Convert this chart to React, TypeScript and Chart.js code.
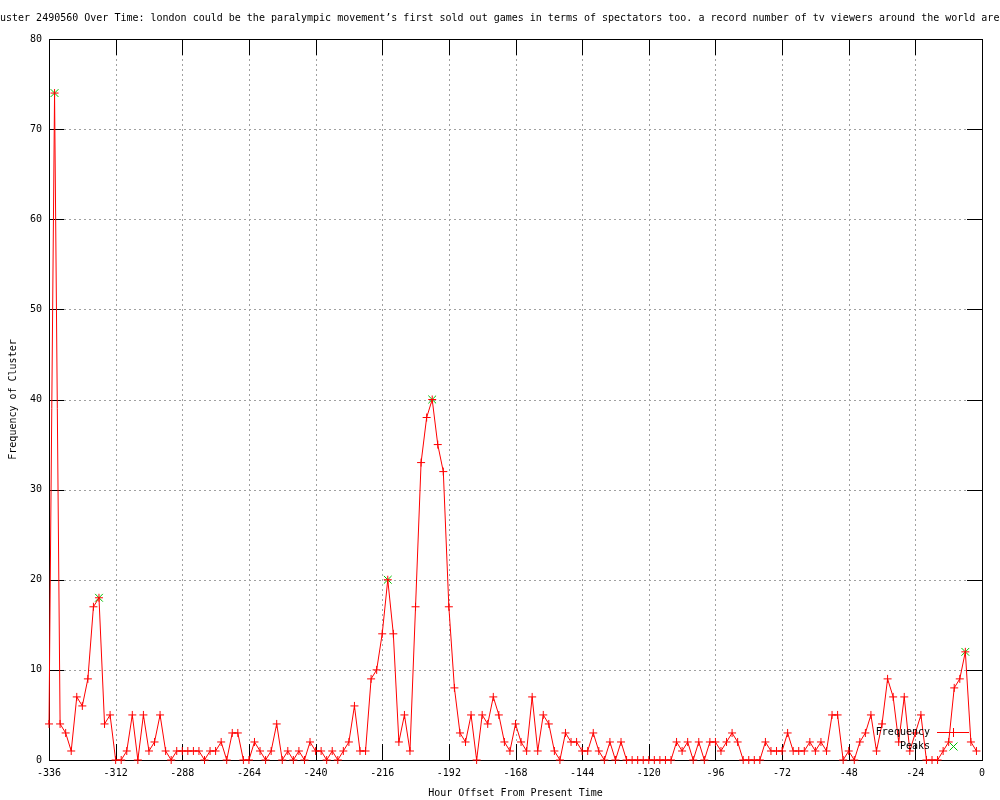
import React, { useEffect, useRef } from 'react';
import Chart from 'chart.js/auto';

const TITLE =
  'uster 2490560 Over Time: london could be the paralympic movement’s first sold out games in terms of spectators too. a record number of tv viewers around the world are';
const X_LABEL = 'Hour Offset From Present Time';
const Y_LABEL = 'Frequency of Cluster';

const hours = [
  -336, -334, -332, -330, -328, -326, -324, -322, -320, -318,
  -316, -314, -312, -310, -308, -306, -304, -302, -300, -298,
  -296, -294, -292, -290, -288, -286, -284, -282, -280, -278,
  -276, -274, -272, -270, -268, -266, -264, -262, -260, -258,
  -256, -254, -252, -250, -248, -246, -244, -242, -240, -238,
  -236, -234, -232, -230, -228, -226, -224, -222, -220, -218,
  -216, -214, -212, -210, -208, -206, -204, -202, -200, -198,
  -196, -194, -192, -190, -188, -186, -184, -182, -180, -178,
  -176, -174, -172, -170, -168, -166, -164, -162, -160, -158,
  -156, -154, -152, -150, -148, -146, -144, -142, -140, -138,
  -136, -134, -132, -130, -128, -126, -124, -122, -120, -118,
  -116, -114, -112, -110, -108, -106, -104, -102, -100, -98,
  -96, -94, -92, -90, -88, -86, -84, -82, -80, -78,
  -76, -74, -72, -70, -68, -66, -64, -62, -60, -58,
  -56, -54, -52, -50, -48, -46, -44, -42, -40, -38,
  -36, -34, -32, -30, -28, -26, -24, -22, -20, -18,
  -16, -14, -12, -10, -8, -6, -4, -2,
];

const frequency = [
  4, 74, 4, 3, 1, 7, 6, 9, 17, 18,
  4, 5, 0, 0, 1, 5, 0, 5, 1, 2,
  5, 1, 0, 1, 1, 1, 1, 1, 0, 1,
  1, 2, 0, 3, 3, 0, 0, 2, 1, 0,
  1, 4, 0, 1, 0, 1, 0, 2, 1, 1,
  0, 1, 0, 1, 2, 6, 1, 1, 9, 10,
  14, 20, 14, 2, 5, 1, 17, 33, 38, 40,
  35, 32, 17, 8, 3, 2, 5, 0, 5, 4,
  7, 5, 2, 1, 4, 2, 1, 7, 1, 5,
  4, 1, 0, 3, 2, 2, 1, 1, 3, 1,
  0, 2, 0, 2, 0, 0, 0, 0, 0, 0,
  0, 0, 0, 2, 1, 2, 0, 2, 0, 2,
  2, 1, 2, 3, 2, 0, 0, 0, 0, 2,
  1, 1, 1, 3, 1, 1, 1, 2, 1, 2,
  1, 5, 5, 0, 1, 0, 2, 3, 5, 1,
  4, 9, 7, 2, 7, 1, 3, 5, 0, 0,
  0, 1, 2, 8, 9, 12, 2, 1,
];

const peakHours = [-334, -318, -214, -198, -6];
const peakValues = [74, 18, 20, 40, 12];

const legendLabels = ['Frequency', 'Peaks'];

const RED = '#ff0000';
const GREEN = '#00c000';
const GRID = '#a0a0a0';
const FONT = '"DejaVu Sans Mono", monospace';

const framePlugin = {
  id: 'gnuFrame',
  beforeDatasetsDraw(chart: any) {
    const { ctx, chartArea: a, scales } = chart;
    const xs = scales.x;
    const ys = scales.y;
    const L = Math.round(a.left);
    const R = Math.round(a.right);
    const T = Math.round(a.top);
    const B = Math.round(a.bottom);
    const line = (x1: number, y1: number, x2: number, y2: number) => {
      ctx.beginPath();
      ctx.moveTo(x1, y1);
      ctx.lineTo(x2, y2);
      ctx.stroke();
    };
    ctx.save();
    ctx.lineWidth = 1;
    ctx.strokeStyle = GRID;
    ctx.setLineDash([2, 3]);
    xs.ticks.forEach((t: any) => {
      const px = Math.round(xs.getPixelForValue(t.value)) + 0.5;
      line(px, T, px, B);
    });
    ys.ticks.forEach((t: any) => {
      const py = Math.round(ys.getPixelForValue(t.value)) + 0.5;
      line(L, py, R, py);
    });
    ctx.setLineDash([]);
    ctx.strokeStyle = '#000';
    ctx.strokeRect(L + 0.5, T + 0.5, R - L, B - T);
    xs.ticks.forEach((t: any) => {
      const px = Math.round(xs.getPixelForValue(t.value)) + 0.5;
      line(px, B, px, B - 16);
      line(px, T, px, T + 16);
    });
    ys.ticks.forEach((t: any) => {
      const py = Math.round(ys.getPixelForValue(t.value)) + 0.5;
      line(L, py, L + 15, py);
      line(R, py, R - 15, py);
    });
    ctx.restore();
  },
  afterDatasetsDraw(chart: any) {
    const { ctx, chartArea: a } = chart;
    const R = Math.round(a.right);
    const B = Math.round(a.bottom);
    const textRight = R - 52;
    const y1 = B - 28;
    const y2 = B - 14;
    ctx.save();
    ctx.font = '10px ' + FONT;
    ctx.fillStyle = '#000';
    ctx.textAlign = 'right';
    ctx.textBaseline = 'middle';
    ctx.fillText(legendLabels[0], textRight, y1);
    ctx.fillText(legendLabels[1], textRight, y2);
    ctx.lineWidth = 1;
    ctx.strokeStyle = RED;
    const mx = R - 29;
    ctx.beginPath();
    ctx.moveTo(R - 45, y1 + 0.5);
    ctx.lineTo(R - 13, y1 + 0.5);
    ctx.moveTo(mx + 0.5, y1 - 4);
    ctx.lineTo(mx + 0.5, y1 + 5);
    ctx.stroke();
    ctx.strokeStyle = GREEN;
    ctx.beginPath();
    ctx.moveTo(mx - 3.5, y2 - 3.5);
    ctx.lineTo(mx + 4.5, y2 + 4.5);
    ctx.moveTo(mx + 4.5, y2 - 3.5);
    ctx.lineTo(mx - 3.5, y2 + 4.5);
    ctx.stroke();
    ctx.restore();
  },
};

export default function App() {
  const ref = useRef<HTMLCanvasElement>(null);

  useEffect(() => {
    document.body.style.margin = '0';
    Chart.defaults.font.family = FONT;
    Chart.defaults.font.size = 10;
    Chart.defaults.color = '#000';

    const freqData = hours.map((h, i) => ({ x: h, y: frequency[i] }));
    const peakData = peakHours.map((h, i) => ({ x: h, y: peakValues[i] }));

    const chart = new Chart(ref.current as HTMLCanvasElement, {
      type: 'line',
      data: {
        datasets: [
          {
            label: legendLabels[0],
            data: freqData,
            borderColor: RED,
            backgroundColor: RED,
            borderWidth: 1,
            tension: 0,
            pointStyle: 'cross',
            pointRadius: 4,
            pointBorderWidth: 1,
            pointBorderColor: RED,
            fill: false,
            clip: false as any,
          },
          {
            label: legendLabels[1],
            data: peakData,
            showLine: false,
            borderColor: GREEN,
            backgroundColor: GREEN,
            pointStyle: 'crossRot',
            pointRadius: 5.5,
            pointBorderWidth: 1,
            pointBorderColor: GREEN,
            clip: false as any,
          },
        ],
      },
      options: {
        animation: false,
        responsive: false,
        devicePixelRatio: 1,
        layout: { padding: 0 },
        events: [],
        plugins: {
          legend: { display: false },
          tooltip: { enabled: false },
          title: {
            display: true,
            text: TITLE,
            align: 'start',
            color: '#000',
            font: { family: FONT, size: 10, weight: 'normal' },
            padding: { top: 12, bottom: 15 },
          },
        },
        scales: {
          x: {
            type: 'linear',
            min: -336,
            max: 0,
            grid: { display: false, drawTicks: false },
            border: { display: false },
            ticks: {
              stepSize: 24,
              padding: 7,
              maxRotation: 0,
              autoSkip: false,
              color: '#000',
              font: { family: FONT, size: 10 },
            },
            title: {
              display: true,
              text: X_LABEL,
              color: '#000',
              font: { family: FONT, size: 10 },
              padding: { top: 0, bottom: 1 },
            },
            afterFit: (s: any) => {
              s.height = 40;
            },
          },
          y: {
            type: 'linear',
            position: 'left',
            min: 0,
            max: 80,
            grid: { display: false, drawTicks: false },
            border: { display: false },
            ticks: {
              stepSize: 10,
              padding: 7,
              color: '#000',
              font: { family: FONT, size: 10 },
            },
            title: {
              display: true,
              text: Y_LABEL,
              color: '#000',
              font: { family: FONT, size: 10 },
              padding: { top: 7, bottom: 0 },
            },
            afterFit: (s: any) => {
              s.width = 49;
            },
          },
          yr: {
            type: 'linear',
            position: 'right',
            display: true,
            grid: { display: false, drawTicks: false },
            border: { display: false },
            ticks: { display: false },
            afterFit: (s: any) => {
              s.width = 18;
            },
          },
        },
      },
      plugins: [framePlugin],
    });

    return () => chart.destroy();
  }, []);

  return (
    <canvas
      ref={ref}
      width={1000}
      height={800}
      style={{ display: 'block', width: '1000px', height: '800px' }}
    />
  );
}
